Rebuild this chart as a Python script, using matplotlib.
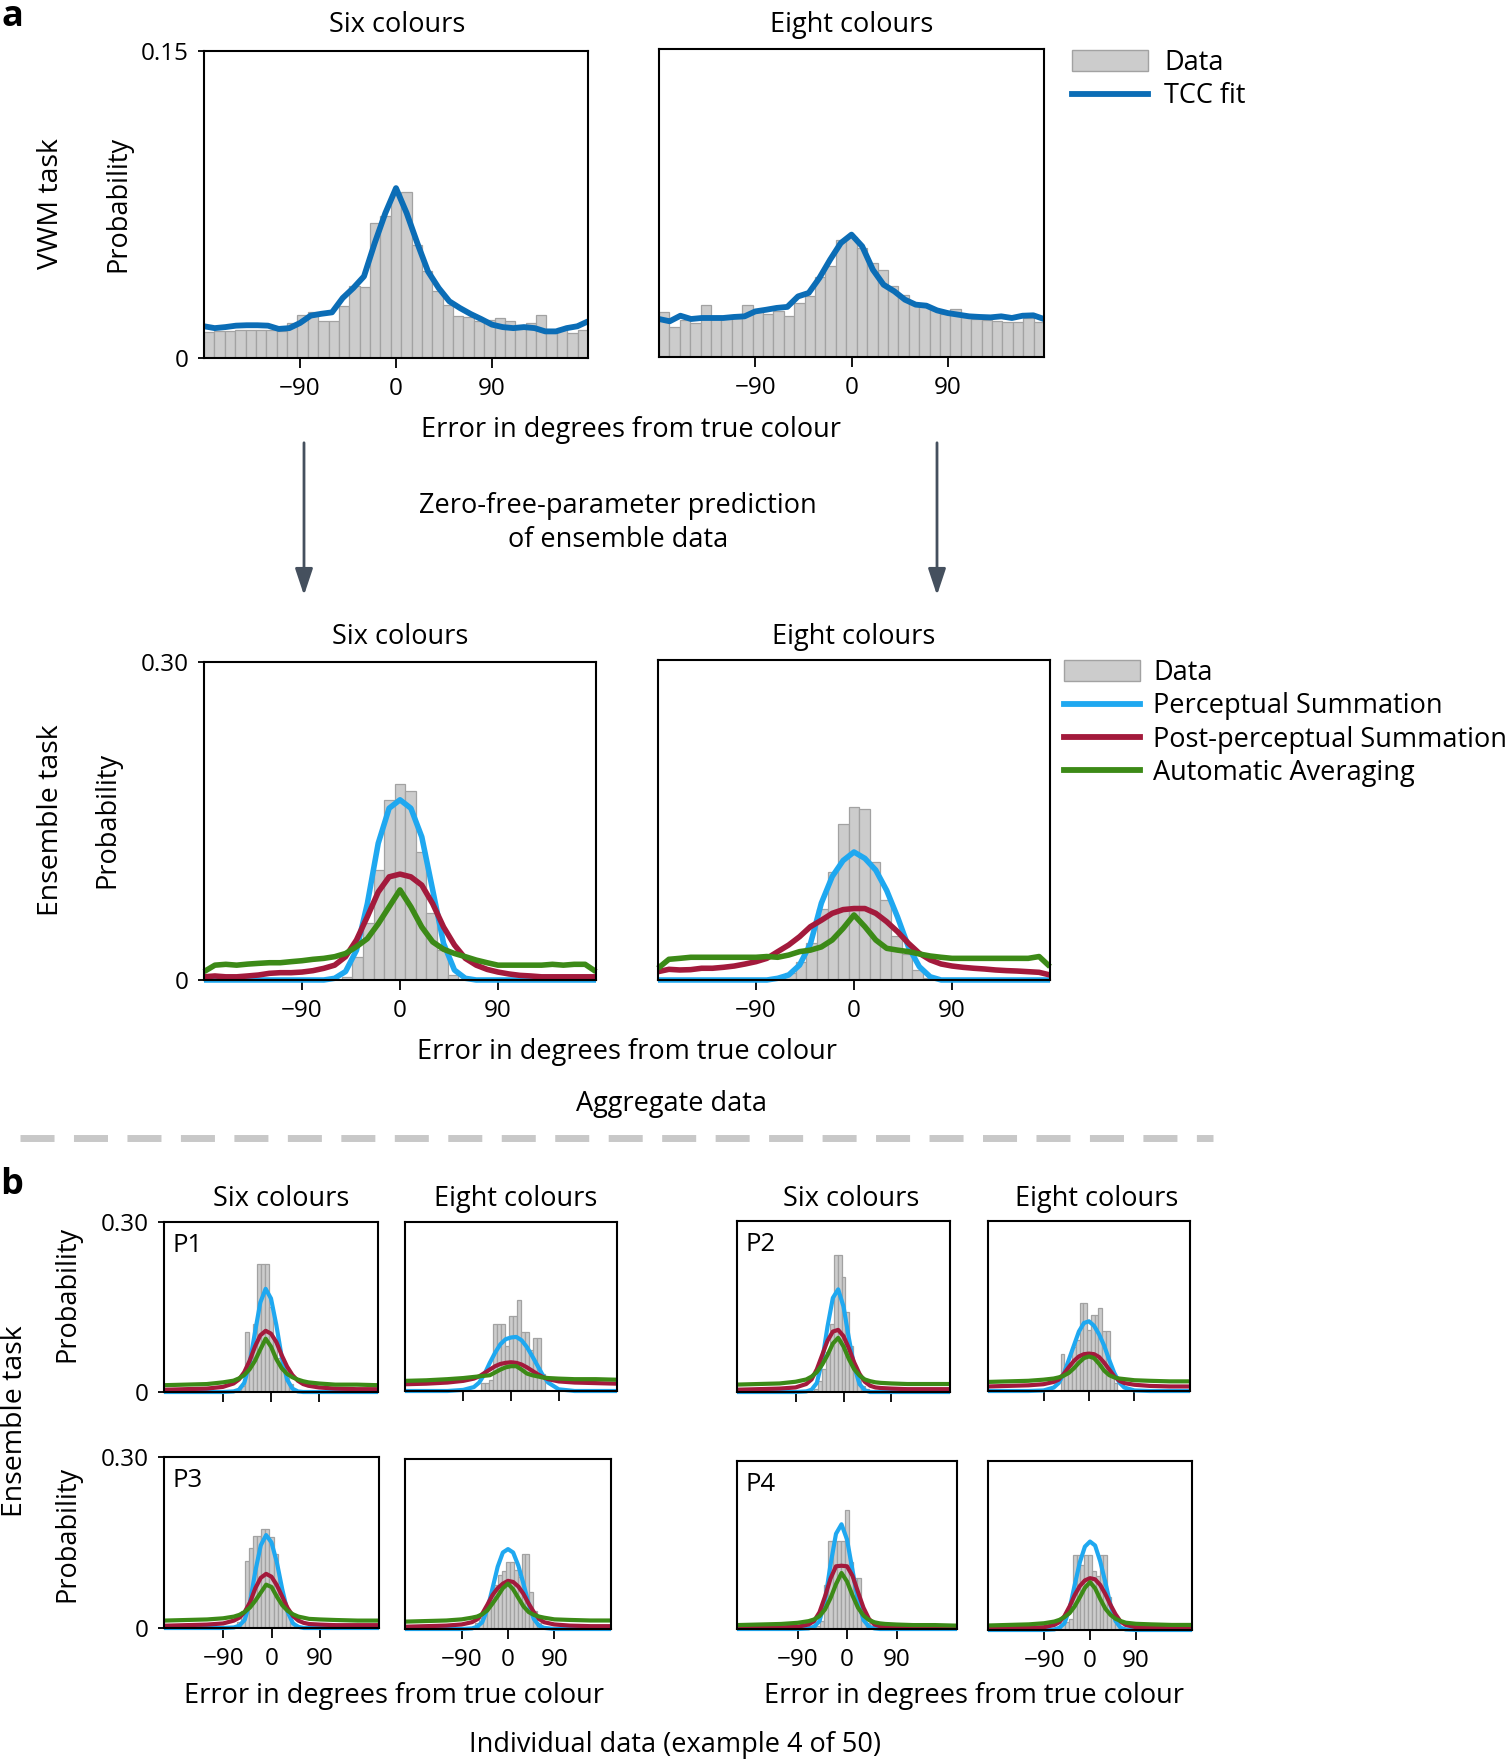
import numpy as np
import matplotlib
matplotlib.use('Agg')
import matplotlib.pyplot as plt
from matplotlib.patches import Patch, FancyArrowPatch
from matplotlib.lines import Line2D

plt.rcParams['font.family'] = ['Open Sans', 'DejaVu Sans']

GREY = '#cccccc'
GREY_EDGE = '#a2a2a2'
TCC_BLUE = '#0b6db6'
PERC = '#1fa8f0'
POST = '#a31a3c'
AUTO = '#3c8a17'

# ---- aggregate data (panel a) ----
edges37 = np.linspace(-180, 180, 38)
bins37 = (edges37[:-1] + edges37[1:]) / 2
deg = np.arange(-180, 181, 10)

vwm_six_bars = [0.0125, 0.013, 0.013, 0.0138, 0.0138, 0.0138, 0.0135, 0.013, 0.0171, 0.0211,
                0.0223, 0.0179, 0.0179, 0.0252, 0.035, 0.0345, 0.0659, 0.0695, 0.080, 0.0813,
                0.0553, 0.0426, 0.0325, 0.026, 0.0207, 0.02, 0.0179, 0.0187, 0.0195, 0.0179,
                0.0163, 0.0171, 0.0211, 0.0138, 0.0146, 0.0122, 0.0138]
vwm_six_tcc = [0.0155, 0.0146, 0.0151, 0.0158, 0.016, 0.016, 0.0158, 0.0142, 0.0146, 0.0171,
               0.0207, 0.0216, 0.0223, 0.0293, 0.0342, 0.0399, 0.0561, 0.0708, 0.083, 0.0708,
               0.0561, 0.0423, 0.0342, 0.0277, 0.0244, 0.0215, 0.019, 0.0163, 0.0151, 0.0146,
               0.0151, 0.0146, 0.013, 0.013, 0.0146, 0.0155, 0.0179]
vwm_eight_bars = [0.0218, 0.0146, 0.0182, 0.0166, 0.0252, 0.019, 0.019, 0.019, 0.0252, 0.0222,
                  0.0211, 0.0222, 0.0201, 0.0263, 0.0299, 0.039, 0.0442, 0.0571, 0.0584, 0.0531,
                  0.0458, 0.0425, 0.0344, 0.0304, 0.0263, 0.0247, 0.0227, 0.0211, 0.0235, 0.0195,
                  0.0185, 0.0182, 0.0174, 0.0169, 0.0169, 0.019, 0.0169]
vwm_eight_tcc = [0.0185, 0.0174, 0.0201, 0.0185, 0.019, 0.019, 0.019, 0.0195, 0.0198, 0.0222,
                 0.023, 0.0239, 0.0244, 0.0295, 0.0312, 0.0385, 0.0474, 0.0555, 0.0596, 0.0539,
                 0.0425, 0.0352, 0.032, 0.0279, 0.0255, 0.025, 0.0227, 0.0214, 0.0206, 0.0198,
                 0.0195, 0.0193, 0.0198, 0.019, 0.0201, 0.0203, 0.0185]

ens_six_bars = [0, 0, 0, 0, 0, 0, 0, 0, 0, 0, 0, 0, 0,
                0.003, 0.0214, 0.054, 0.104, 0.170, 0.185, 0.178, 0.121, 0.063, 0.028, 0.005,
                0, 0, 0, 0, 0, 0, 0, 0, 0, 0, 0, 0, 0]
ens_six_perc = [0, 0, 0, 0, 0, 0, 0, 0, 0, 0, 0, 0,
                0.0016, 0.008, 0.028, 0.072, 0.129, 0.162, 0.170, 0.162, 0.135, 0.085, 0.0345, 0.0094, 0.0016,
                0, 0, 0, 0, 0, 0, 0, 0, 0, 0, 0, 0]
ens_six_post = [0.003, 0.0038, 0.003, 0.003, 0.0038, 0.0047, 0.0063, 0.0069, 0.0069, 0.0075,
                0.0088, 0.011, 0.014, 0.022, 0.0377, 0.0597, 0.083, 0.0973, 0.0999, 0.0973,
                0.0895, 0.072, 0.050, 0.033, 0.0204, 0.014, 0.010, 0.0075, 0.0057, 0.0044,
                0.0038, 0.003, 0.003, 0.003, 0.003, 0.003, 0.003]
ens_six_auto = [0.0079, 0.014, 0.0148, 0.014, 0.015, 0.0157, 0.0163, 0.0163, 0.0173, 0.0182,
                0.0195, 0.0204, 0.022, 0.025, 0.0314, 0.039, 0.053, 0.069, 0.085, 0.069,
                0.050, 0.036, 0.029, 0.025, 0.022, 0.0188, 0.0163, 0.014, 0.014, 0.014,
                0.014, 0.014, 0.0148, 0.014, 0.0148, 0.0148, 0.0079]

ens_eight_bars = [0, 0, 0, 0, 0, 0, 0, 0, 0, 0, 0,
                  0.0016, 0.0069, 0.0166, 0.035, 0.067, 0.1016, 0.146, 0.162, 0.160, 0.111,
                  0.075, 0.041, 0.0244, 0.0094, 0.0016,
                  0, 0, 0, 0, 0, 0, 0, 0, 0, 0, 0]
ens_eight_perc = [0, 0, 0, 0, 0, 0, 0, 0, 0, 0, 0,
                  0.0016, 0.0047, 0.014, 0.034, 0.072, 0.097, 0.112, 0.120, 0.114, 0.103,
                  0.084, 0.059, 0.031, 0.0125, 0.003,
                  0, 0, 0, 0, 0, 0, 0, 0, 0, 0, 0]
ens_eight_post = [0.0078, 0.010, 0.0094, 0.0097, 0.011, 0.011, 0.0119, 0.0131, 0.015, 0.0172,
                  0.0203, 0.0266, 0.0328, 0.0406, 0.050, 0.056, 0.0625, 0.066, 0.067, 0.067,
                  0.0625, 0.0547, 0.0453, 0.0344, 0.025, 0.0188, 0.015, 0.0131, 0.0119, 0.011,
                  0.0103, 0.0094, 0.0088, 0.0084, 0.0078, 0.0072, 0.0047]
ens_eight_auto = [0.011, 0.0194, 0.0203, 0.0213, 0.0213, 0.0213, 0.0213, 0.0213, 0.0213, 0.0213,
                  0.022, 0.0213, 0.0234, 0.0266, 0.028, 0.031, 0.0375, 0.0484, 0.061, 0.050,
                  0.0375, 0.0297, 0.028, 0.0266, 0.0244, 0.0225, 0.0213, 0.0203, 0.0203, 0.0203,
                  0.0203, 0.0203, 0.0203, 0.0203, 0.0203, 0.022, 0.0125]

# ---- individual data (panel b) ----
g = [-200, -160, -120, -90, -70, -60, -50, -40, -30, -20, -10, 0, 10, 20, 30, 40, 50, 60, 70, 90, 120, 160, 200]
small_bins = np.arange(-60, 60.1, 7.5)

p1_six_bars = [0, 0.01, 0.106, 0.07, 0.12, 0.226, 0.226, 0.226, 0.15, 0.09, 0.06, 0.04, 0.025, 0.015, 0.005, 0, 0]
p1_six_perc = [0, 0, 0, 0, 0.001, 0.004, 0.016, 0.05, 0.105, 0.158, 0.182, 0.165, 0.118, 0.062, 0.022, 0.006, 0.001, 0, 0, 0, 0, 0, 0]
p1_six_post = [0.004, 0.005, 0.006, 0.009, 0.015, 0.022, 0.035, 0.055, 0.08, 0.1, 0.108, 0.103, 0.088, 0.065, 0.045, 0.03, 0.02, 0.014, 0.011, 0.008, 0.006, 0.005, 0.005]
p1_six_auto = [0.012, 0.013, 0.014, 0.017, 0.02, 0.024, 0.03, 0.04, 0.055, 0.075, 0.094, 0.08, 0.058, 0.042, 0.032, 0.026, 0.022, 0.019, 0.017, 0.015, 0.013, 0.013, 0.012]

p1_eight_bars = [0, 0.014, 0.014, 0.02, 0.119, 0.119, 0.119, 0.079, 0.133, 0.133, 0.161, 0.105, 0.105, 0.073, 0.094, 0.094, 0.031]
p1_eight_perc = [0, 0, 0, 0.002, 0.007, 0.015, 0.03, 0.05, 0.068, 0.083, 0.092, 0.095, 0.096, 0.09, 0.078, 0.062, 0.045, 0.028, 0.015, 0.003, 0, 0, 0]
p1_eight_post = [0.012, 0.013, 0.015, 0.018, 0.022, 0.026, 0.032, 0.038, 0.044, 0.048, 0.05, 0.051, 0.05, 0.047, 0.042, 0.036, 0.03, 0.025, 0.021, 0.017, 0.015, 0.014, 0.013]
p1_eight_auto = [0.018, 0.019, 0.021, 0.023, 0.025, 0.026, 0.027, 0.028, 0.033, 0.038, 0.042, 0.044, 0.044, 0.038, 0.031, 0.028, 0.026, 0.024, 0.023, 0.022, 0.021, 0.021, 0.02]

p2_six_bars = [0, 0.005, 0.02, 0.04, 0.07, 0.12, 0.241, 0.241, 0.202, 0.14, 0.08, 0.045, 0.025, 0.01, 0.005, 0, 0]
p2_six_perc = [0, 0, 0, 0, 0.001, 0.004, 0.016, 0.055, 0.115, 0.165, 0.18, 0.15, 0.095, 0.045, 0.014, 0.003, 0, 0, 0, 0, 0, 0, 0]
p2_six_post = [0.004, 0.005, 0.006, 0.008, 0.014, 0.022, 0.04, 0.065, 0.09, 0.106, 0.109, 0.098, 0.077, 0.052, 0.032, 0.018, 0.011, 0.008, 0.007, 0.006, 0.005, 0.005, 0.005]
p2_six_auto = [0.013, 0.014, 0.015, 0.018, 0.022, 0.027, 0.035, 0.048, 0.065, 0.085, 0.095, 0.08, 0.058, 0.04, 0.029, 0.022, 0.019, 0.017, 0.016, 0.015, 0.014, 0.014, 0.014]

p2_eight_bars = [0, 0.065, 0.043, 0.05, 0.078, 0.09, 0.155, 0.155, 0.108, 0.134, 0.134, 0.147, 0.106, 0.106, 0.025, 0.0135, 0]
p2_eight_perc = [0, 0, 0, 0.001, 0.006, 0.014, 0.03, 0.055, 0.08, 0.105, 0.12, 0.123, 0.115, 0.1, 0.08, 0.055, 0.032, 0.015, 0.006, 0.001, 0, 0, 0]
p2_eight_post = [0.008, 0.009, 0.01, 0.012, 0.016, 0.02, 0.03, 0.042, 0.053, 0.061, 0.065, 0.066, 0.065, 0.06, 0.05, 0.038, 0.026, 0.018, 0.014, 0.011, 0.009, 0.008, 0.008]
p2_eight_auto = [0.016, 0.017, 0.018, 0.02, 0.022, 0.024, 0.027, 0.032, 0.04, 0.05, 0.058, 0.061, 0.058, 0.048, 0.036, 0.028, 0.024, 0.022, 0.021, 0.019, 0.018, 0.017, 0.017]

p3_six_bars = [0.01, 0.03, 0.118, 0.14, 0.162, 0.162, 0.174, 0.174, 0.16, 0.13, 0.063, 0.045, 0.028, 0.01, 0.005, 0, 0]
p3_six_perc = [0, 0, 0, 0, 0.001, 0.004, 0.014, 0.045, 0.1, 0.145, 0.163, 0.15, 0.115, 0.068, 0.028, 0.008, 0.002, 0, 0, 0, 0, 0, 0]
p3_six_post = [0.004, 0.005, 0.006, 0.008, 0.013, 0.018, 0.028, 0.045, 0.07, 0.088, 0.095, 0.09, 0.075, 0.055, 0.035, 0.021, 0.013, 0.009, 0.007, 0.006, 0.005, 0.005, 0.005]
p3_six_auto = [0.013, 0.014, 0.015, 0.017, 0.02, 0.023, 0.028, 0.036, 0.048, 0.062, 0.076, 0.072, 0.055, 0.04, 0.03, 0.024, 0.02, 0.018, 0.016, 0.015, 0.014, 0.013, 0.013]

p3_eight_bars = [0.01, 0.019, 0.031, 0.049, 0.065, 0.078, 0.095, 0.102, 0.118, 0.118, 0.105, 0.092, 0.132, 0.132, 0.066, 0.031, 0.01]
p3_eight_perc = [0, 0, 0, 0, 0.001, 0.004, 0.012, 0.035, 0.072, 0.11, 0.135, 0.141, 0.135, 0.112, 0.08, 0.045, 0.018, 0.006, 0.002, 0, 0, 0, 0]
p3_eight_post = [0.004, 0.005, 0.006, 0.008, 0.012, 0.017, 0.027, 0.043, 0.06, 0.072, 0.08, 0.085, 0.083, 0.075, 0.062, 0.045, 0.03, 0.018, 0.012, 0.008, 0.006, 0.005, 0.005]
p3_eight_auto = [0.013, 0.014, 0.015, 0.017, 0.02, 0.022, 0.026, 0.033, 0.045, 0.058, 0.072, 0.08, 0.07, 0.055, 0.04, 0.03, 0.025, 0.022, 0.02, 0.017, 0.016, 0.015, 0.015]

p4_six_bars = [0, 0.005, 0.014, 0.079, 0.158, 0.158, 0.158, 0.158, 0.213, 0.12, 0.091, 0.091, 0.031, 0.01, 0.005, 0, 0]
p4_six_perc = [0, 0, 0, 0, 0.001, 0.004, 0.014, 0.05, 0.115, 0.17, 0.187, 0.16, 0.105, 0.05, 0.016, 0.004, 0.001, 0, 0, 0, 0, 0, 0]
p4_six_post = [0.002, 0.002, 0.003, 0.004, 0.008, 0.014, 0.03, 0.058, 0.09, 0.112, 0.113, 0.112, 0.095, 0.066, 0.038, 0.018, 0.008, 0.005, 0.004, 0.003, 0.003, 0.003, 0.003]
p4_six_auto = [0.007, 0.008, 0.009, 0.011, 0.014, 0.017, 0.023, 0.035, 0.055, 0.08, 0.1, 0.085, 0.06, 0.038, 0.024, 0.016, 0.012, 0.01, 0.009, 0.008, 0.007, 0.007, 0.006]

p4_eight_bars = [0.005, 0.01, 0.015, 0.02, 0.134, 0.134, 0.115, 0.134, 0.134, 0.105, 0.095, 0.134, 0.134, 0.059, 0.027, 0.01, 0]
p4_eight_perc = [0, 0, 0, 0, 0.001, 0.004, 0.012, 0.038, 0.08, 0.12, 0.148, 0.157, 0.15, 0.122, 0.085, 0.045, 0.016, 0.004, 0.001, 0, 0, 0, 0]
p4_eight_post = [0.003, 0.003, 0.004, 0.005, 0.009, 0.014, 0.025, 0.042, 0.062, 0.078, 0.088, 0.092, 0.09, 0.08, 0.064, 0.045, 0.028, 0.015, 0.009, 0.005, 0.004, 0.003, 0.003]
p4_eight_auto = [0.008, 0.009, 0.01, 0.012, 0.015, 0.018, 0.023, 0.03, 0.042, 0.058, 0.075, 0.085, 0.074, 0.055, 0.038, 0.027, 0.02, 0.016, 0.013, 0.011, 0.01, 0.009, 0.009]

xticks = [-90, 0, 90]
xticklabels = ['\u221290', '0', '90']

W, H = 1509, 1762
FS = 19.5
fig = plt.figure(figsize=(W / 100, H / 100), dpi=100)


def px_axes(x0, y0, x1, y1):
    return fig.add_axes([x0 / W, 1 - y1 / H, (x1 - x0) / W, (y1 - y0) / H])


def ftext(x, y, s, **kw):
    kw.setdefault('ha', 'center')
    kw.setdefault('va', 'center')
    kw.setdefault('fontsize', FS)
    fig.text(x / W, 1 - y / H, s, **kw)


def panel(ax, bx, bh, bw, curves, xlim, ytop, ylab, xlab, lw):
    ax.bar(bx, bh, width=bw, color=GREY, edgecolor=GREY_EDGE, linewidth=0.9, zorder=1)
    for cx, cy, col in curves:
        ax.plot(cx, cy, color=col, lw=lw, solid_joinstyle='round', solid_capstyle='butt',
                zorder=3, clip_on=False)
    ax.set_xlim(*xlim)
    ax.set_ylim(0, ytop)
    ax.set_xticks(xticks)
    ax.set_xticklabels(xticklabels if xlab else [])
    if ylab:
        ax.set_yticks([0, ytop])
        ax.set_yticklabels(['0', f'{ytop:.2f}'])
    else:
        ax.set_yticks([])
    ax.tick_params(axis='x', length=7, width=1.3, pad=7, labelsize=17.5)
    ax.tick_params(axis='y', length=4, width=1.3, pad=7, labelsize=17.5)
    for s in ax.spines.values():
        s.set_linewidth(1.5)
        s.set_zorder(4)


# panel a, VWM task
ax = px_axes(204, 51, 588, 358)
panel(ax, bins37, vwm_six_bars, 360 / 37, [(deg, vwm_six_tcc, TCC_BLUE)], (-180, 180), 0.15, True, True, 4.2)
ax = px_axes(659, 49, 1044, 357)
panel(ax, bins37, vwm_eight_bars, 360 / 37, [(deg, vwm_eight_tcc, TCC_BLUE)], (-180, 180), 0.15, False, True, 4.2)

# panel a, ensemble task
ax = px_axes(204, 662, 596, 980)
panel(ax, bins37, ens_six_bars, 360 / 37,
      [(deg, ens_six_perc, PERC), (deg, ens_six_post, POST), (deg, ens_six_auto, AUTO)],
      (-180, 180), 0.30, True, True, 4.0)
ax = px_axes(658, 660, 1050, 980)
panel(ax, bins37, ens_eight_bars, 360 / 37,
      [(deg, ens_eight_perc, PERC), (deg, ens_eight_post, POST), (deg, ens_eight_auto, AUTO)],
      (-180, 180), 0.30, False, True, 4.0)

# panel b
small = [
    ((164, 1222, 378, 1392), p1_six_bars, p1_six_perc, p1_six_post, p1_six_auto, True, False, 'P1'),
    ((405, 1222, 617, 1391), p1_eight_bars, p1_eight_perc, p1_eight_post, p1_eight_auto, False, False, None),
    ((737, 1221, 950, 1392), p2_six_bars, p2_six_perc, p2_six_post, p2_six_auto, False, False, 'P2'),
    ((988, 1221, 1190, 1391), p2_eight_bars, p2_eight_perc, p2_eight_post, p2_eight_auto, False, False, None),
    ((164, 1457, 379, 1628), p3_six_bars, p3_six_perc, p3_six_post, p3_six_auto, True, True, 'P3'),
    ((405, 1459, 611, 1629), p3_eight_bars, p3_eight_perc, p3_eight_post, p3_eight_auto, False, True, None),
    ((737, 1461, 957, 1629), p4_six_bars, p4_six_perc, p4_six_post, p4_six_auto, False, True, 'P4'),
    ((988, 1461, 1192, 1630), p4_eight_bars, p4_eight_perc, p4_eight_post, p4_eight_auto, False, True, None),
]
for box, bars, perc, post, auto, ylab, xlab, name in small:
    ax = px_axes(*box)
    panel(ax, small_bins, bars, 7.5, [(g, perc, PERC), (g, post, POST), (g, auto, AUTO)],
          (-200, 200), 0.30, ylab, xlab, 3.0)
    if name:
        ax.text(0.04, 0.86, name, transform=ax.transAxes, fontsize=18.5, va='center', ha='left')

# legends
fig.legend(handles=[Patch(facecolor=GREY, edgecolor=GREY_EDGE),
                    Line2D([], [], color=TCC_BLUE, lw=4.2)],
           labels=['Data', 'TCC fit'], loc='upper left',
           bbox_to_anchor=(1072 / W, 1 - 49 / H), frameon=False, fontsize=FS,
           handlelength=2.8, handleheight=0.8, labelspacing=0.2, handletextpad=0.6,
           borderaxespad=0, borderpad=0)
fig.legend(handles=[Patch(facecolor=GREY, edgecolor=GREY_EDGE),
                    Line2D([], [], color=PERC, lw=4.2),
                    Line2D([], [], color=POST, lw=4.2),
                    Line2D([], [], color=AUTO, lw=4.2)],
           labels=['Data', 'Perceptual Summation', 'Post-perceptual Summation', 'Automatic Averaging'],
           loc='upper left', bbox_to_anchor=(1064 / W, 1 - 659 / H), frameon=False, fontsize=FS,
           handlelength=2.8, handleheight=0.8, labelspacing=0.2, handletextpad=0.5,
           borderaxespad=0, borderpad=0)

# titles and labels
ftext(12, 17, 'a', fontsize=26, fontweight='bold')
ftext(12, 1185, 'b', fontsize=26, fontweight='bold')
ftext(397, 25, 'Six colours')
ftext(852, 25, 'Eight colours')
ftext(400, 637, 'Six colours')
ftext(854, 637, 'Eight colours')
ftext(281, 1199, 'Six colours')
ftext(516, 1199, 'Eight colours')
ftext(851, 1199, 'Six colours')
ftext(1097, 1199, 'Eight colours')

ftext(51, 204, 'VWM task', rotation=90, fontsize=20.5)
ftext(118, 204, 'Probability', rotation=90)
ftext(51, 820, 'Ensemble task', rotation=90, fontsize=20.5)
ftext(107, 820, 'Probability', rotation=90)
ftext(67, 1294, 'Probability', rotation=90)
ftext(67, 1534, 'Probability', rotation=90)
ftext(15, 1421, 'Ensemble task', rotation=90, fontsize=20.5)

ftext(631, 430, 'Error in degrees from true colour')
ftext(627, 1052, 'Error in degrees from true colour')
ftext(394, 1696, 'Error in degrees from true colour')
ftext(974, 1696, 'Error in degrees from true colour')
ftext(618, 523, 'Zero-free-parameter prediction\nof ensemble data', linespacing=1.25)
ftext(672, 1104, 'Aggregate data')
ftext(675, 1745, 'Individual data (example 4 of 50)')

# arrows
for xa in (304, 937):
    fig.add_artist(FancyArrowPatch((xa / W, 1 - 440 / H), (xa / W, 1 - 598 / H),
                                   transform=fig.transFigure, arrowstyle='-|>,head_length=0.9,head_width=0.3',
                                   mutation_scale=18, color='#45505e', lw=2))

# dashed separator
fig.add_artist(Line2D([20 / W, 1213 / W], [1 - 1138 / H, 1 - 1138 / H], transform=fig.transFigure,
                      color='#c8c8c8', lw=5, dashes=(4.9, 2.8)))

fig.savefig('out.png', dpi=100)
